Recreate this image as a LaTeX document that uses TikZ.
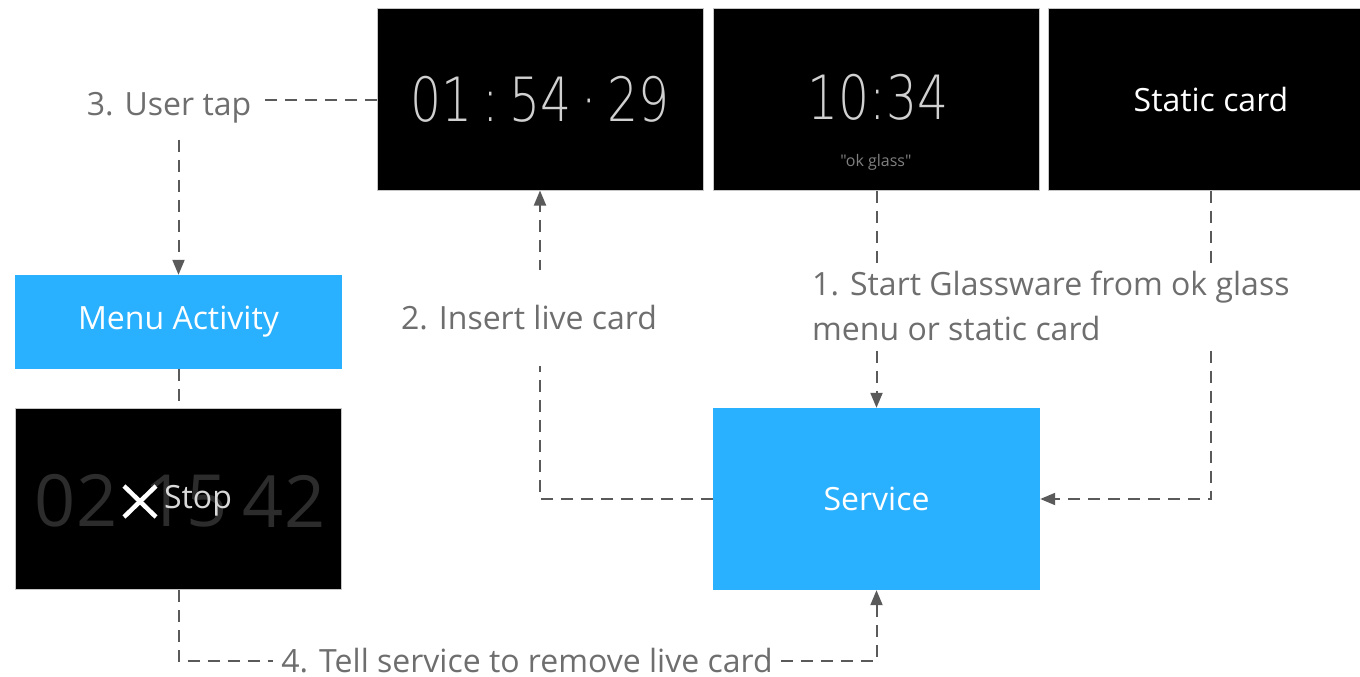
\documentclass[tikz,border=0pt]{standalone}
\usepackage{fontspec}
\setmainfont{Open Sans}
\newfontfamily\thinfont{DejaVuSans-ExtraLight}[Extension=.ttf, FakeStretch=0.8]
\newfontfamily\plainquotes{Open Sans}[Ligatures=TeXOff]
\usetikzlibrary{arrows.meta}

\definecolor{glassblue}{HTML}{29B0FE}
\definecolor{linegray}{HTML}{5A5A5A}
\definecolor{labelgray}{HTML}{6E6E6E}
\definecolor{digitgray}{HTML}{D0D0D0}
\definecolor{fadegray}{HTML}{2C2C2C}
\pgfdeclarelayer{bg}
\pgfsetlayers{bg,main}

\begin{document}
\begin{tikzpicture}[x=1pt, y=-1pt, >={Triangle[length=15pt,width=12pt]},
    card/.style={fill=black, draw=gray!45, line width=1pt, minimum width=326pt, minimum height=181pt, inner sep=0pt},
    bluebox/.style={fill=glassblue, minimum width=327pt, inner sep=0pt, text=white, font=\fontsize{32}{40}\selectfont},
    flow/.style={draw=linegray, line width=2pt, dash pattern=on 12pt off 8pt},
    lbl/.style={fill=white, text=labelgray, font=\fontsize{32}{45}\selectfont, inner xsep=6pt},
    bigdigits/.style={font=\thinfont\fontsize{61}{70}\selectfont}]
    % picture is 1360 x 677, one unit per pixel, origin top-left
    \useasboundingbox (0,0) rectangle (1360,677);

    % --- Cards (top row) ---
    \node[card, text=digitgray, bigdigits] (timer) at (540,99.5) {01\,:\,54\,·\,29}; % live card
    \node[card] (clock) at (876.5,99.5) {}; % ok glass card
    \node[text=digitgray, bigdigits] (clocktime) at (878,97) {10:34};
    \node[text=gray, font=\plainquotes\fontsize{16}{18}\selectfont] (okglass) at (876,162) {"ok glass"};
    \node[card, text=white, font=\fontsize{32}{40}\selectfont] (static) at (1211,99.5) {Static card}; % runs past the edge

    % --- Blue boxes ---
    \node[bluebox, minimum height=94pt] (menu) at (178.5,322) {Menu Activity};
    \node[bluebox, minimum height=182pt] (service) at (876.5,499) {Service};

    % --- Menu card with Stop item ---
    \node[card] (stopcard) at (178.5,499) {};
    \node[text=fadegray, bigdigits, font=\fontsize{72}{80}\selectfont] (hh) at (76,501) {02};
    \node[text=fadegray, bigdigits, font=\fontsize{72}{80}\selectfont] (mm) at (186,501) {15};
    \node[text=fadegray, bigdigits, font=\fontsize{72}{80}\selectfont] (ss) at (284,501) {42};
    \draw[white, line width=4.5pt] (124,486) -- (156,517) (124,517) -- (156,486); % close icon
    \node[text=white!85!black, font=\fontsize{32}{40}\selectfont] (stop) at (198,501) {Stop};

    % --- Step labels ---
    \node[lbl, inner xsep=14pt, inner ysep=16pt] (tap) at (169,108) {3. User tap};
    \node[lbl, inner ysep=36pt] (insert) at (529,318) {2. Insert live card};
    \node[lbl, anchor=west, align=left, inner ysep=6pt] (start) at (806,306) {1. Start Glassware from ok glass\\menu or static card};
    \node[lbl, inner xsep=8pt, inner ysep=0pt] (remove) at (527,661) {4. Tell service to remove live card};

    % --- Connectors (behind the labels) ---
    \begin{pgfonlayer}{bg}
        \draw[flow] ([yshift=8pt]tap.east) -- ([yshift=8pt]tap.east -| timer.west);
        \draw[flow, ->] (tap.south -| menu.north) -- (menu.north);
        \draw[flow] (menu.south) -- (stopcard.north);
        \draw[flow] (stopcard.south) |- (remove.west);
        \draw[flow, ->] (remove.east) -| (service.south);
        \draw[flow, ->] (service.west) -| (timer.south);
        \draw[flow, ->] (clock.south) -- (service.north);
        \draw[flow, ->] (static.south) |- (service.east);
    \end{pgfonlayer}
\end{tikzpicture}
\end{document}
